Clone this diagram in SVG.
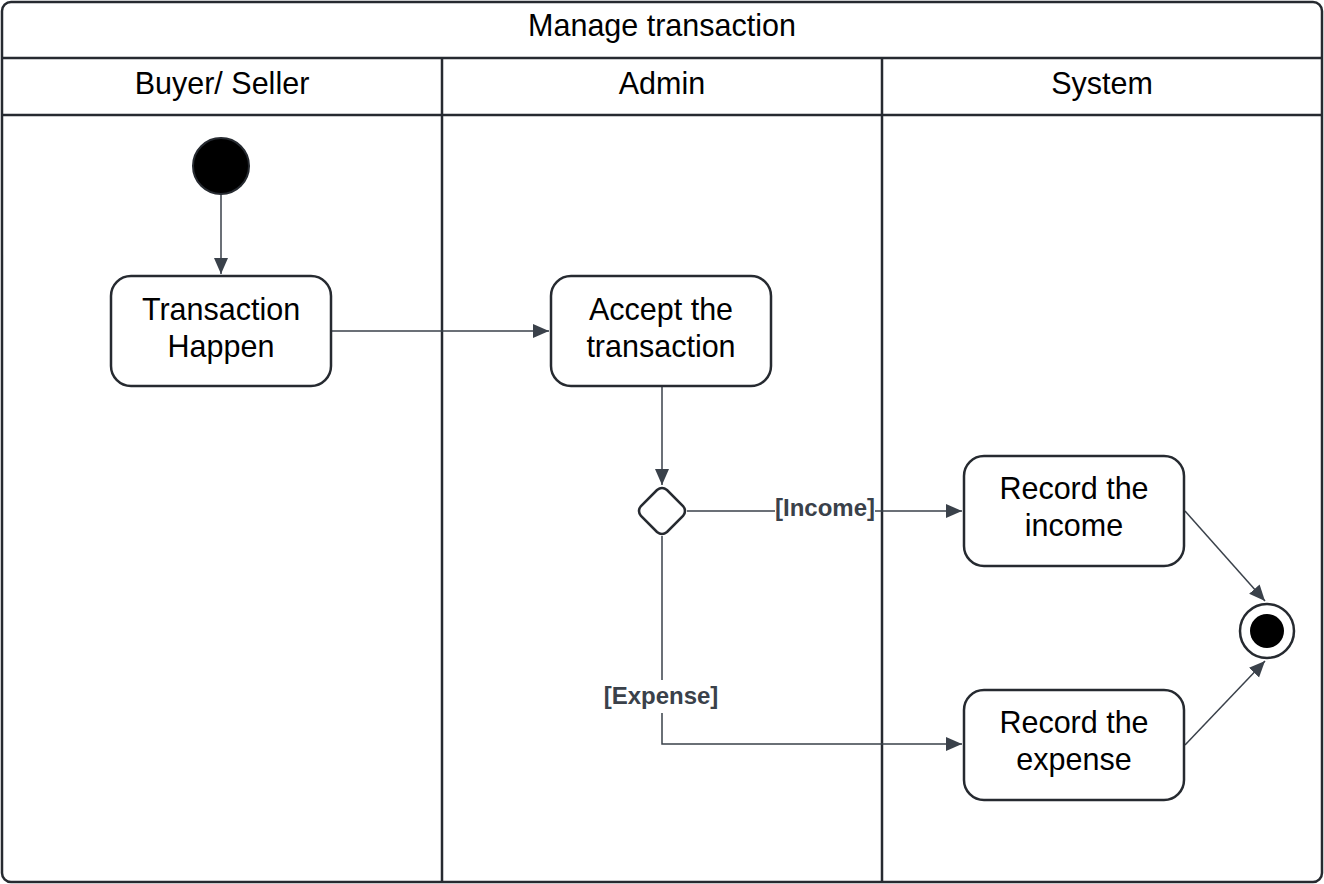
<svg xmlns="http://www.w3.org/2000/svg" width="1324" height="884" viewBox="0 0 1324 884">
<style>
.frame{fill:#fff;stroke:#262a30;stroke-width:2.5}
.line{stroke:#262a30;stroke-width:2.5;fill:none}
.node{fill:#fff;stroke:#262a30;stroke-width:2.5}
.t{font-family:"Liberation Sans",Arial,sans-serif;font-size:30.5px;fill:#000;text-anchor:middle}
.lbl{font-family:"Liberation Sans",Arial,sans-serif;font-size:24px;font-weight:bold;fill:#3a414a;text-anchor:middle}
.conn{stroke:#3a414a;stroke-width:1.5;fill:none}
</style>
<defs>
<marker id="arr" viewBox="0 0 16 16" refX="16" refY="8" markerWidth="16" markerHeight="16" markerUnits="userSpaceOnUse" orient="auto">
<path d="M0,1 L16,8 L0,15 Z" fill="#3a414a"/>
</marker>
</defs>
<g id="frame">
<rect class="frame" x="2" y="2" width="1320" height="880" rx="9"/>
<line class="line" x1="2" y1="58" x2="1322" y2="58"/>
<line class="line" x1="2" y1="115" x2="1322" y2="115"/>
<line class="line" x1="442" y1="58" x2="442" y2="882"/>
<line class="line" x1="882" y1="58" x2="882" y2="882"/>
<text class="t" x="662" y="36">Manage transaction</text>
<text class="t" x="222" y="94">Buyer/ Seller</text>
<text class="t" x="662" y="94">Admin</text>
<text class="t" x="1102" y="94">System</text>
</g>
<g id="connectors">
<line class="conn" x1="221" y1="194" x2="221" y2="274" marker-end="url(#arr)"/>
<line class="conn" x1="331" y1="331" x2="549" y2="331" marker-end="url(#arr)"/>
<line class="conn" x1="662" y1="386" x2="662" y2="485" marker-end="url(#arr)"/>
<line class="conn" x1="687" y1="511" x2="775" y2="511"/>
<line class="conn" x1="875" y1="511" x2="962" y2="511" marker-end="url(#arr)"/>
<polyline class="conn" points="662,536 662,680"/>
<polyline class="conn" points="662,713 662,744 962,744" marker-end="url(#arr)"/>
<line class="conn" x1="1185" y1="511" x2="1265" y2="601" marker-end="url(#arr)"/>
<line class="conn" x1="1185" y1="745" x2="1265" y2="661" marker-end="url(#arr)"/>
<text class="lbl" x="825" y="516">[Income]</text>
<text class="lbl" x="661" y="704">[Expense]</text>
</g>
<g id="start">
<circle cx="221" cy="166" r="28" fill="#000" stroke="#262a30" stroke-width="2"/>
</g>
<g id="transaction-happen">
<rect class="node" x="111" y="276" width="220" height="110" rx="20"/>
<text class="t" x="221" y="320">Transaction</text>
<text class="t" x="221" y="357">Happen</text>
</g>
<g id="accept">
<rect class="node" x="551" y="276" width="220" height="110" rx="20"/>
<text class="t" x="661" y="320">Accept the</text>
<text class="t" x="661" y="357">transaction</text>
</g>
<g id="decision">
<path class="node" d="M657,490 Q662,486 667,490 L683,506 Q687,511 683,516 L667,532 Q662,536 657,532 L641,516 Q637,511 641,506 Z"/>
</g>
<g id="record-income">
<rect class="node" x="964" y="456" width="220" height="110" rx="20"/>
<text class="t" x="1074" y="499">Record the</text>
<text class="t" x="1074" y="536">income</text>
</g>
<g id="record-expense">
<rect class="node" x="964" y="690" width="220" height="110" rx="20"/>
<text class="t" x="1074" y="733">Record the</text>
<text class="t" x="1074" y="770">expense</text>
</g>
<g id="end">
<circle cx="1267" cy="631" r="27" fill="#fff" stroke="#262a30" stroke-width="2.5"/>
<circle cx="1267" cy="631" r="17" fill="#000"/>
</g>
</svg>
